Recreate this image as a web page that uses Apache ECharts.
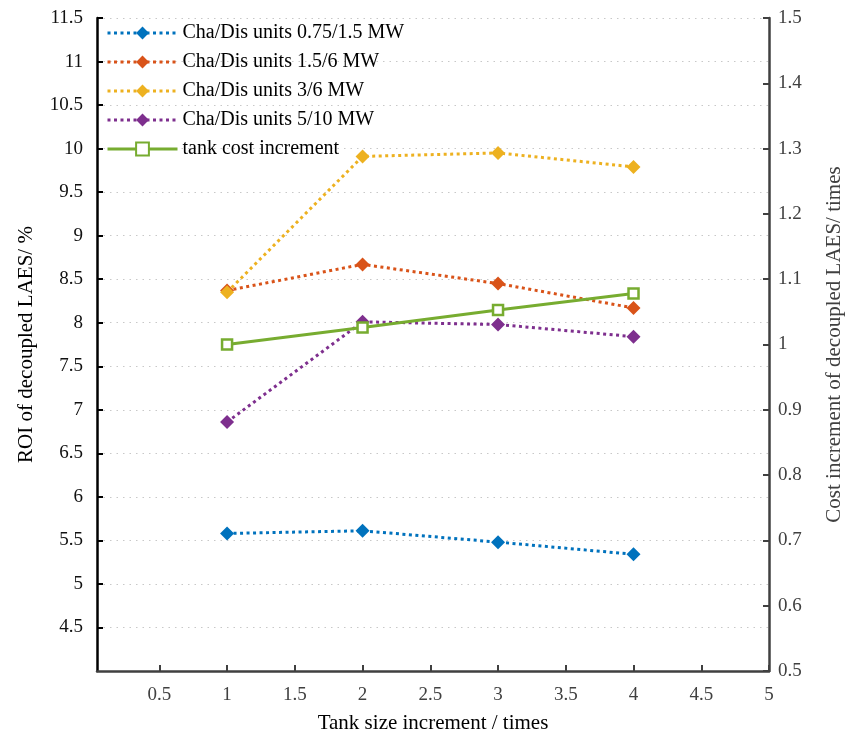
<!DOCTYPE html>
<html>
<head>
<meta charset="utf-8">
<script src="https://cdn.jsdelivr.net/npm/echarts@6/dist/echarts.min.js"></script>
<style>
  html, body { margin: 0; padding: 0; background: #fff; overflow: hidden; }
  #chart { width: 845px; height: 740px; }
</style>
</head>
<body>
<div id="chart"></div>
<script>
// Tank size increments (x) and the series measured at each of them
const tankSize = [1, 2, 3, 4];
const xTicks = [0.5, 1, 1.5, 2, 2.5, 3, 3.5, 4, 4.5, 5];

const roi075 = [5.58, 5.61, 5.48, 5.34];
const roi15 = [8.37, 8.67, 8.45, 8.17];
const roi3 = [8.35, 9.91, 9.95, 9.79];
const roi5 = [6.86, 8.01, 7.98, 7.84];
const tankCost = [1.0, 1.026, 1.053, 1.078];

const seriesNames = [
  'Cha/Dis units 0.75/1.5 MW',
  'Cha/Dis units 1.5/6 MW',
  'Cha/Dis units 3/6 MW',
  'Cha/Dis units 5/10 MW',
  'tank cost increment'
];
const colors = ['#0072BD', '#D95319', '#EDB120', '#7E2F8E', '#77AC30'];

const FONT = '"Liberation Serif", "DejaVu Serif", serif';
const pairs = ys => tankSize.map((x, i) => [x, ys[i]]);

function dottedSeries(name, ys, color) {
  return {
    name: name,
    type: 'line',
    yAxisIndex: 0,
    data: pairs(ys),
    symbol: 'diamond',
    symbolSize: 14,
    itemStyle: { color: color },
    lineStyle: { color: color, width: 3, type: [3, 3.5], cap: 'butt' },
    emphasis: { disabled: true }
  };
}

const chart = echarts.init(document.getElementById('chart'), null, { renderer: 'canvas' });

chart.setOption({
  animation: false,
  backgroundColor: '#fff',
  textStyle: { fontFamily: FONT },
  grid: { left: 97, right: 76, top: 18, bottom: 69, containLabel: false, outerBoundsMode: 'none' },
  legend: {
    orient: 'vertical',
    left: 101,
    top: 18,
    itemWidth: 70,
    itemHeight: 16,
    itemGap: 9,
    data: seriesNames,
    lineStyle: { width: 3 },
    textStyle: { fontFamily: FONT, fontSize: 20, color: '#000' }
  },
  xAxis: {
    type: 'value',
    min: 0.04,
    max: 5,
    name: 'Tank size increment / times',
    nameLocation: 'middle',
    nameGap: 42,
    nameTextStyle: { fontFamily: FONT, fontSize: 21, color: '#000' },
    axisLine: { onZero: false, lineStyle: { color: '#404040', width: 2.5 } },
    axisTick: { inside: true, length: 6, customValues: xTicks, lineStyle: { color: '#404040', width: 2 } },
    axisLabel: { customValues: xTicks, margin: 15, fontFamily: FONT, fontSize: 19, color: '#404040' },
    splitLine: { show: false }
  },
  yAxis: [
    {
      type: 'value',
      position: 'left',
      min: 4,
      max: 11.5,
      interval: 0.5,
      name: 'ROI of decoupled LAES/ %',
      nameLocation: 'middle',
      nameRotate: 90,
      nameGap: 60,
      nameTextStyle: { fontFamily: FONT, fontSize: 21, color: '#000' },
      axisLine: { show: true, onZero: false, lineStyle: { color: '#000', width: 2.5 } },
      axisTick: { show: true, inside: true, length: 6, lineStyle: { color: '#000', width: 2 } },
      axisLabel: { showMinLabel: false, margin: 14, fontFamily: FONT, fontSize: 19, color: '#111' },
      splitLine: { show: true, lineStyle: { color: '#c8c8c8', width: 1, type: [1.5, 5] } }
    },
    {
      type: 'value',
      position: 'right',
      min: 0.5,
      max: 1.5,
      interval: 0.1,
      name: 'Cost increment of decoupled LAES/ times',
      nameLocation: 'middle',
      nameRotate: 90,
      nameGap: 55,
      nameTextStyle: { fontFamily: FONT, fontSize: 21, color: '#404040' },
      axisLine: { show: true, onZero: false, lineStyle: { color: '#404040', width: 2.5 } },
      axisTick: { show: true, inside: true, length: 6, lineStyle: { color: '#404040', width: 2 } },
      axisLabel: { margin: 9, fontFamily: FONT, fontSize: 19, color: '#404040' },
      splitLine: { show: false }
    }
  ],
  series: [
    dottedSeries(seriesNames[0], roi075, colors[0]),
    dottedSeries(seriesNames[1], roi15, colors[1]),
    dottedSeries(seriesNames[2], roi3, colors[2]),
    dottedSeries(seriesNames[3], roi5, colors[3]),
    {
      name: seriesNames[4],
      type: 'line',
      yAxisIndex: 1,
      data: pairs(tankCost),
      symbol: 'rect',
      symbolSize: 10,
      itemStyle: { color: '#fff', borderColor: colors[4], borderWidth: 2.5 },
      lineStyle: { color: colors[4], width: 3 },
      emphasis: { disabled: true }
    }
  ]
});
</script>
</body>
</html>
